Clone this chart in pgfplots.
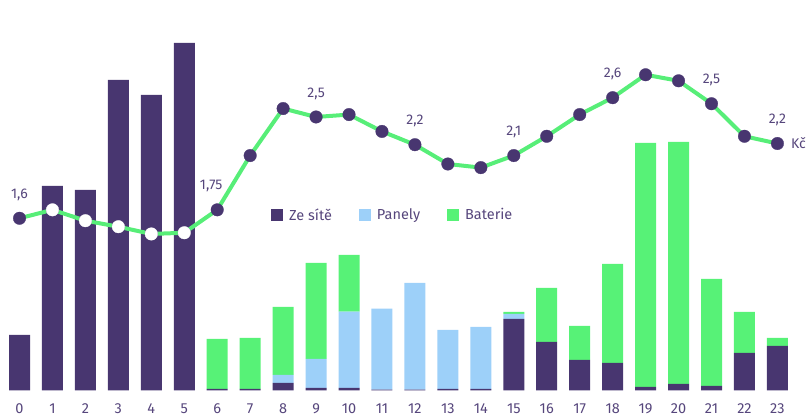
\documentclass[border=0pt]{standalone}
\usepackage{fontspec}
\setmainfont{Fira Sans}
\usepackage{pgfplots}
\usepackage{pgfplotstable}
\pgfplotsset{compat=1.18}
\usetikzlibrary{calc}

\definecolor{sit}{HTML}{483670}
\definecolor{pan}{HTML}{9DD0F9}
\definecolor{bat}{HTML}{57F277}
\definecolor{linec}{HTML}{57EE78}
\definecolor{txt}{HTML}{56467C}

% cena v Kc po hodinach
\pgfplotstableread{
h p
0 1.60
1 1.67
2 1.58
3 1.53
4 1.47
5 1.48
6 1.67
7 2.12
8 2.51
9 2.44
10 2.46
11 2.32
12 2.21
13 2.05
14 2.02
15 2.12
16 2.28
17 2.46
18 2.60
19 2.79
20 2.74
21 2.55
22 2.28
23 2.22
}\cena

\begin{document}
\begin{tikzpicture}
% hodinove toky energie (px jednotky)
\begin{axis}[
  name=bars,
  scale only axis,
  width=806pt, height=390.5pt,
  xmin=-0.592, xmax=23.868,
  ymin=0, ymax=390.5,
  ybar stacked,
  bar width=21pt,
  axis line style={draw=none},
  ytick=\empty,
  xtick={0,...,23},
  major tick length=0pt,
  /pgf/number format/assume math mode=true,
  xticklabel style={font=\fontsize{14.5}{16}\selectfont, text=txt, anchor=base,
    inner sep=0pt, text depth=0pt, yshift=-23pt},
  legend columns=3,
  legend style={at={(271/806,175.5/390.5)}, anchor=west, draw=none, fill=none,
    inner sep=0pt, font=\fontsize{14.5}{16}\selectfont, text=txt,
    /tikz/every odd column/.append style={column sep=4pt},
    /tikz/every even column/.append style={column sep=25pt}},
]
\addplot[fill=sit, draw=none, legend image code/.code={\fill[sit] (0pt,-6pt) rectangle (12pt,6pt);}]
  coordinates {(0,55.5) (1,204.5) (2,200.5) (3,310.5) (4,295.5) (5,347.5)
    (6,1.5) (7,1.5) (8,7.5) (9,2.5) (10,2.5) (11,0.8) (12,0.8) (13,1.5)
    (14,1.5) (15,71.5) (16,48.5) (17,30.5) (18,27.5) (19,3.5) (20,6.5)
    (21,4.5) (22,37.5) (23,44.5)};
\addlegendentry{Ze sítě}
\addplot[fill=pan, draw=none, legend image code/.code={\fill[pan] (0pt,-6pt) rectangle (12pt,6pt);}]
  coordinates {(0,0) (1,0) (2,0) (3,0) (4,0) (5,0) (6,0) (7,0) (8,8)
    (9,29) (10,76.3) (11,81) (12,106.7) (13,59) (14,62) (15,5) (16,0)
    (17,0) (18,0) (19,0) (20,0) (21,0) (22,0) (23,0)};
\addlegendentry{Panely}
\addplot[fill=bat, draw=none, legend image code/.code={\fill[bat] (0pt,-6pt) rectangle (12pt,6pt);}]
  coordinates {(0,0) (1,0) (2,0) (3,0) (4,0) (5,0) (6,50) (7,51) (8,68)
    (9,96) (10,56.7) (11,0) (12,0) (13,0) (14,0) (15,2) (16,54) (17,34)
    (18,99) (19,244) (20,242) (21,107) (22,41) (23,8)};
\addlegendentry{Baterie}
\end{axis}

% cena (Kc)
\begin{axis}[
  scale only axis,
  width=806pt, height=390.5pt,
  xmin=-0.592, xmax=23.868,
  ymin=0.172, ymax=3.410,
  hide axis, clip=false,
]
\addplot[linec, line width=4pt, mark=none] table[x=h, y=p] {\cena};
\addplot[only marks, mark=*, mark size=6.3pt, color=sit, mark options={line width=0.3pt}]
  table[x=h, y=p] {\cena};
\addplot[only marks, mark=*, mark size=6.3pt, color=white, mark options={line width=0.3pt},
  restrict x to domain=0.5:5.5] table[x=h, y=p] {\cena};
\begin{scope}[every node/.style={font=\fontsize{14}{16}\selectfont, text=txt, yshift=23.5pt}]
\node at (axis cs:0,1.60) {1,6};
\node[xshift=-6pt] at (axis cs:6,1.67) {1,75};
\node at (axis cs:9,2.44) {2,5};
\node at (axis cs:12,2.21) {2,2};
\node at (axis cs:15,2.12) {2,1};
\node at (axis cs:18,2.60) {2,6};
\node at (axis cs:21,2.55) {2,5};
\node at (axis cs:23,2.22) {2,2};
\end{scope}
\node[font=\fontsize{14}{16}\selectfont, text=txt, anchor=west, inner sep=0pt, xshift=13.5pt]
  at (axis cs:23,2.22) {Kč};
\end{axis}
\pgfresetboundingbox
\path[use as bounding box] ($(bars.south west)+(0,-26.5pt)$) rectangle (bars.north east);
\end{tikzpicture}
\end{document}
